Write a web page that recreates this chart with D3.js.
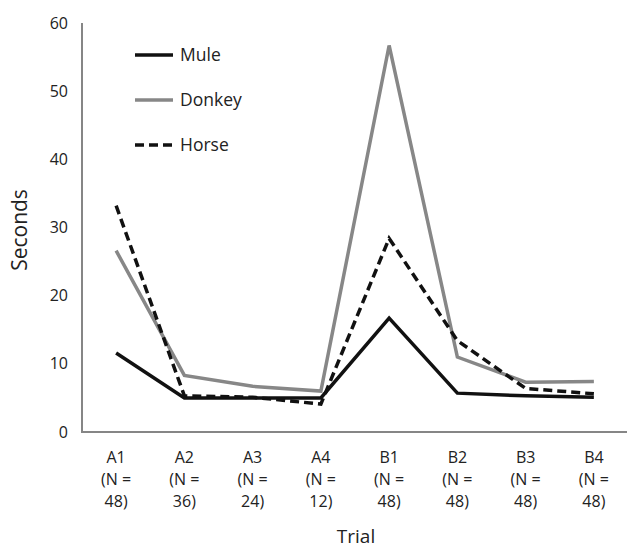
<!DOCTYPE html>
<html lang="en">
<head>
<meta charset="utf-8">
<title>trial seconds</title>
<script src="https://cdn.jsdelivr.net/npm/d3@7"></script>
<style>
  body { margin: 0; background: #fff; }
  text { font-family: "Open Sans", "Liberation Sans", sans-serif; fill: #222; }
</style>
</head>
<body>
<script>
var w = 627, h = 546;

// data
var trials = ["A1", "A2", "A3", "A4", "B1", "B2", "B3", "B4"];
var nLabels = ["48)", "36)", "24)", "12)", "48)", "48)", "48)", "48)"];
var mule   = [11.6, 5.0, 5.0, 5.0, 16.7, 5.7, 5.3, 5.1];
var donkey = [26.6, 8.3, 6.7, 6.0, 56.7, 11.0, 7.3, 7.4];
var horse  = [33.2, 5.3, 5.1, 4.1, 28.4, 13.4, 6.4, 5.6];
var yTicks = [0, 10, 20, 30, 40, 50, 60];

var series = [
  {name: "Mule",   values: mule,   color: "#111", dash: null},
  {name: "Donkey", values: donkey, color: "#878787", dash: null},
  {name: "Horse",  values: horse,  color: "#111", dash: "9,5"}
];

// plot box (don't call these top/left, window.top is read-only)
var pLeft = 82, pRight = 628, pTop = 23, pBottom = 432;

var x = d3.scalePoint().domain(trials).range([pLeft, pRight]).padding(0.5);
var y = d3.scaleLinear().domain([0, 60]).range([pBottom, pTop]);

var svg = d3.select("body").append("svg").attr("width", w).attr("height", h);

// y axis labels
var yAxis = d3.axisLeft(y).tickValues(yTicks).tickSize(0).tickPadding(14);
var gy = svg.append("g").attr("transform", "translate(" + pLeft + ",0)").call(yAxis);
gy.attr("font-family", null).attr("font-size", null);
gy.select(".domain").remove();
gy.selectAll("text").style("font-size", "16px").attr("fill", "#222");

// axis lines
svg.append("path")
  .attr("d", "M" + pLeft + "," + pTop + "V" + pBottom + "H" + pRight)
  .attr("fill", "none").attr("stroke", "#868686").attr("stroke-width", 2);

// x labels, three lines each
var xl = svg.selectAll(".xl").data(trials).enter().append("text")
  .attr("class", "xl")
  .attr("text-anchor", "middle")
  .style("font-size", "16px");
xl.append("tspan").attr("x", function(d){ return x(d); }).attr("y", 463).text(function(d){ return d; });
xl.append("tspan").attr("x", function(d){ return x(d); }).attr("y", 485).text("(N =");
xl.append("tspan").attr("x", function(d){ return x(d); }).attr("y", 507).text(function(d, i){ return nLabels[i]; });

// axis titles
svg.append("text").attr("x", 356).attr("y", 543).attr("text-anchor", "middle")
  .style("font-size", "19px").text("Trial");
svg.append("text").attr("transform", "translate(27,230) rotate(-90)")
  .attr("text-anchor", "middle").style("font-size", "21px").text("Seconds");

// lines
var line = d3.line()
  .x(function(d, i){ return x(trials[i]); })
  .y(function(d){ return y(d); });

svg.selectAll(".series").data([series[1], series[0], series[2]]).enter().append("path")
  .attr("class", "series")
  .attr("d", function(s){ return line(s.values); })
  .attr("fill", "none")
  .attr("stroke", function(s){ return s.color; })
  .attr("stroke-width", 3.5)
  .attr("stroke-dasharray", function(s){ return s.dash; })
  .attr("stroke-linejoin", "miter");

// legend
var lg = svg.selectAll(".lg").data(series).enter().append("g")
  .attr("class", "lg")
  .attr("transform", function(d, i){ return "translate(135," + (55 + i * 45) + ")"; });
lg.append("line").attr("x1", 0).attr("x2", 38).attr("y1", 0).attr("y2", 0)
  .attr("stroke", function(d){ return d.color; })
  .attr("stroke-width", 3.5)
  .attr("stroke-dasharray", function(d){ return d.dash; });
lg.append("text").attr("x", 45).attr("y", 6).style("font-size", "17.5px")
  .text(function(d){ return d.name; });
</script>
</body>
</html>
